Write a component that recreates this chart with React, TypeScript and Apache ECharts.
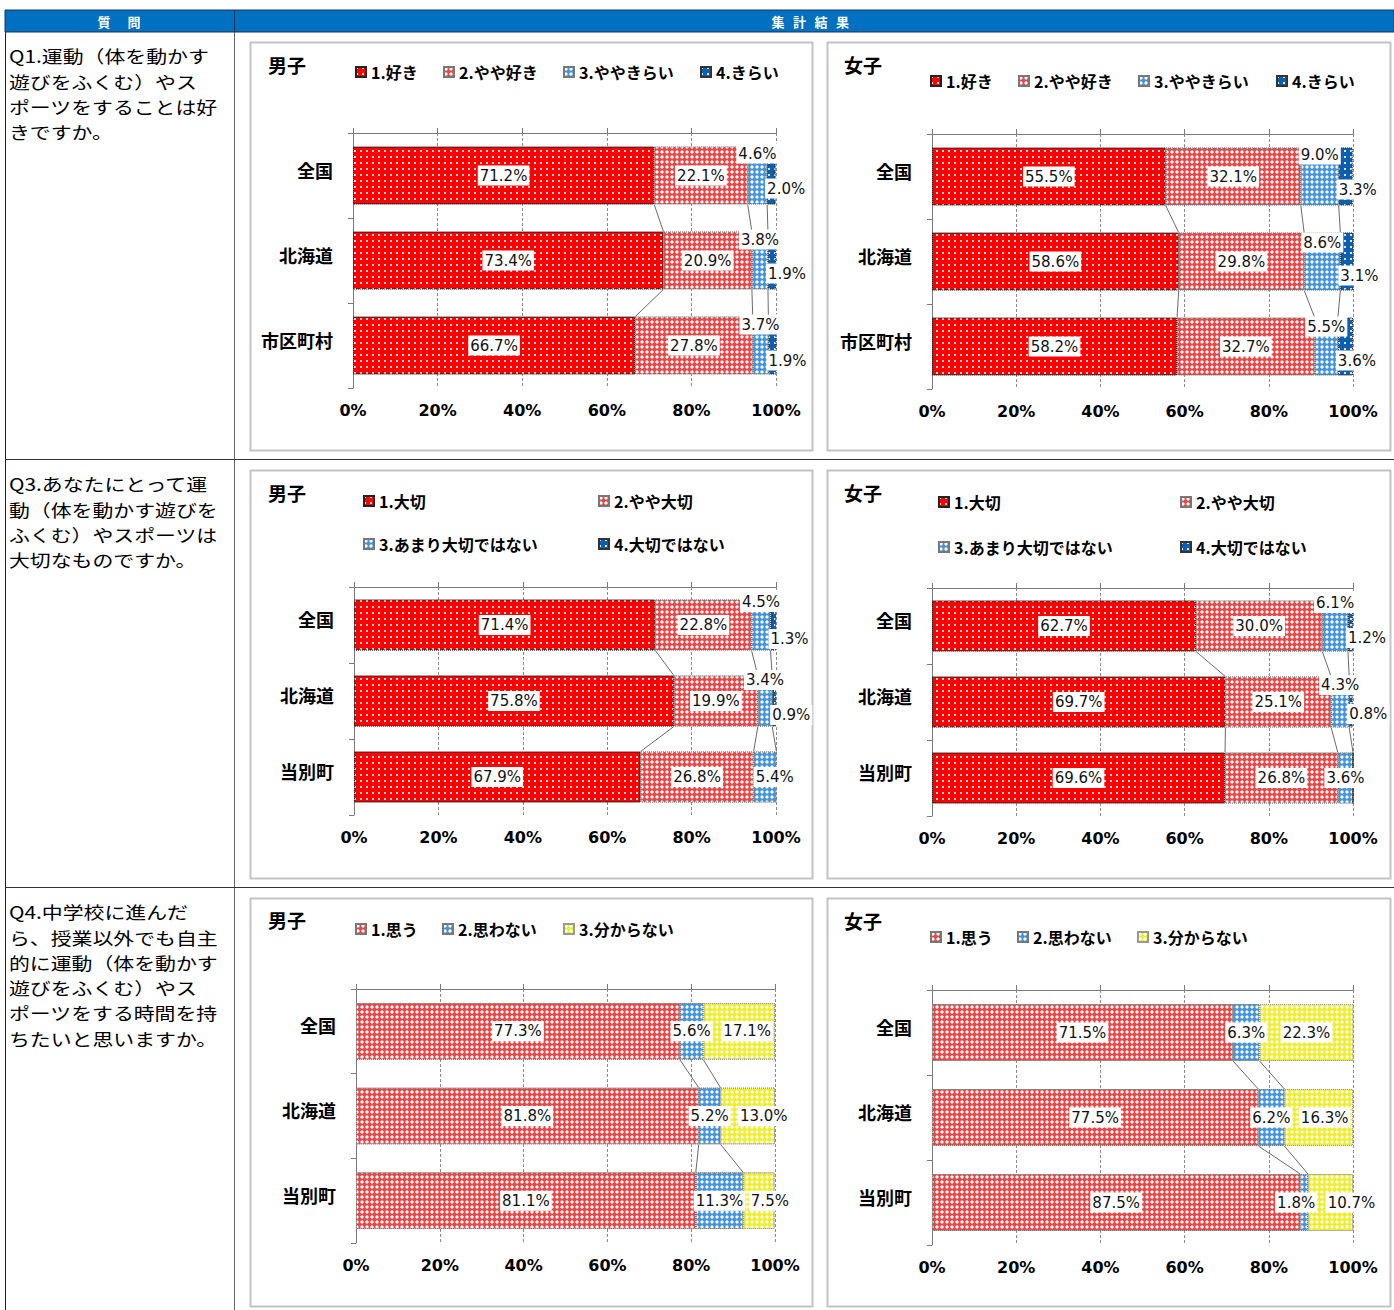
import React, { useEffect, useRef } from 'react';
import * as echarts from 'echarts';

// ---------- data ----------
const q1Regions = ['全国', '北海道', '市区町村'];
const q34Regions = ['全国', '北海道', '当別町'];
const q1Answers = ['1.好き', '2.やや好き', '3.ややきらい', '4.きらい'];
const q3Answers = ['1.大切', '2.やや大切', '3.あまり大切ではない', '4.大切ではない'];
const q4Answers = ['1.思う', '2.思わない', '3.分からない'];
// rows = regions, columns = answers (%)
const q1Boys = [[71.2, 22.1, 4.6, 2.0], [73.4, 20.9, 3.8, 1.9], [66.7, 27.8, 3.7, 1.9]];
const q1Girls = [[55.5, 32.1, 9.0, 3.3], [58.6, 29.8, 8.6, 3.1], [58.2, 32.7, 5.5, 3.6]];
const q3Boys = [[71.4, 22.8, 4.5, 1.3], [75.8, 19.9, 3.4, 0.9], [67.9, 26.8, 5.4, 0]];
const q3Girls = [[62.7, 30.0, 6.1, 1.2], [69.7, 25.1, 4.3, 0.8], [69.6, 26.8, 3.6, 0]];
const q4Boys = [[77.3, 5.6, 17.1], [81.8, 5.2, 13.0], [81.1, 11.3, 7.5]];
const q4Girls = [[71.5, 6.3, 22.3], [77.5, 6.2, 16.3], [87.5, 1.8, 10.7]];
const axisMax = 100;
const axisStep = 20;

const headerLeft = ['質', '問'];
const headerRight = ['集', '計', '結', '果'];
const q1Text = ['Q1.運動（体を動かす', '遊びをふくむ）やス', 'ポーツをすることは好', 'きですか。'];
const q3Text = ['Q3.あなたにとって運', '動（体を動かす遊びを', 'ふくむ）やスポーツは', '大切なものですか。'];
const q4Text = ['Q4.中学校に進んだ', 'ら、授業以外でも自主', '的に運動（体を動かす', '遊びをふくむ）やス', 'ポーツをする時間を持', 'ちたいと思いますか。'];

// ---------- styles ----------
const dots = (c: string) => ({ symbol: 'rect', symbolSize: 1, color: c, dashArrayX: [1.3, 3.3], dashArrayY: [1.3, 3.3] });
const hatch = (c: string) => ({ symbol: 'diamond', symbolSize: 1, color: c, dashArrayX: [3.2, 0.8], dashArrayY: [3.2, 0.8] });
const RED = { color: '#ff0000', decal: dots('rgba(255,255,255,0.85)'), borderColor: '#222', borderWidth: 1, borderType: 'dotted' };
const PINK = { color: '#e84848', decal: hatch('#ffffff'), borderColor: '#777', borderWidth: 1, borderType: 'dotted' };
const LBLUE = { color: '#4595d8', decal: hatch('#ffffff'), borderColor: '#777', borderWidth: 1, borderType: 'dotted' };
const DBLUE = { color: '#0b5fb0', decal: dots('rgba(255,255,255,0.85)'), borderColor: '#333', borderWidth: 1, borderType: 'dotted' };
const YELLOW = { color: '#efee2a', decal: hatch('#ffffff'), borderColor: '#999', borderWidth: 1, borderType: 'dotted' };

type Place = null | { position?: string; offset?: number[]; distance?: number };
const up = (dy: number): Place => ({ position: 'inside', offset: [0, dy] });
const lowRight = (dy: number): Place => ({ position: 'insideLeft', distance: 0, offset: [-2, dy] });
const shift = (dx: number): Place => ({ position: 'inside', offset: [dx, 0] });

const charts = [
  {
    rows: q1Boys, regions: q1Regions, answers: q1Answers, styles: [RED, PINK, LBLUE, DBLUE],
    grid: { left: 353, top: 133, width: 423, height: 255 }, ratio: 0.68, title: '男子', titlePos: [287, 64],
    legend: [[355, 73], [443, 73], [563, 73], [700, 73]],
    place: [[null, null, up(-22), lowRight(13)], [null, null, up(-21), lowRight(13)], [null, null, up(-21), lowRight(15)]],
  },
  {
    rows: q1Girls, regions: q1Regions, answers: q1Answers, styles: [RED, PINK, LBLUE, DBLUE],
    grid: { left: 932, top: 134, width: 421, height: 255 }, ratio: 0.68, title: '女子', titlePos: [863, 64],
    legend: [[930, 82], [1018, 82], [1138, 82], [1276, 82]],
    place: [[null, null, up(-22), lowRight(13)], [null, null, up(-19), lowRight(14)], [null, null, up(-20), lowRight(14)]],
  },
  {
    rows: q3Boys, regions: q34Regions, answers: q3Answers, styles: [RED, PINK, LBLUE, DBLUE],
    grid: { left: 354, top: 587, width: 422, height: 228 }, ratio: 0.67, title: '男子', titlePos: [287, 492],
    legend: [[363, 502], [598, 502], [363, 545], [598, 545]],
    place: [[null, null, up(-23), lowRight(14)], [null, null, up(-21), lowRight(14)], [null, null, { position: 'insideLeft', distance: 0 }, null]],
  },
  {
    rows: q3Girls, regions: q34Regions, answers: q3Answers, styles: [RED, PINK, LBLUE, DBLUE],
    grid: { left: 932, top: 588, width: 421, height: 228 }, ratio: 0.67, title: '女子', titlePos: [863, 492],
    legend: [[938, 503], [1180, 503], [938, 548], [1180, 548]],
    place: [[null, null, up(-23), lowRight(12)], [null, null, up(-17), lowRight(12)], [null, null, null, null]],
  },
  {
    rows: q4Boys, regions: q34Regions, answers: q4Answers, styles: [PINK, LBLUE, YELLOW],
    grid: { left: 356, top: 989, width: 419, height: 254 }, ratio: 0.67, title: '男子', titlePos: [287, 919],
    legend: [[355, 930], [442, 930], [563, 930]],
    place: [[null, null, shift(8)], [null, null, shift(16)], [null, null, shift(11)]],
  },
  {
    rows: q4Girls, regions: q34Regions, answers: q4Answers, styles: [PINK, LBLUE, YELLOW],
    grid: { left: 932, top: 990, width: 421, height: 255 }, ratio: 0.67, title: '女子', titlePos: [863, 920],
    legend: [[930, 938], [1017, 938], [1137, 938]],
    place: [[null, null, null], [null, null, shift(6)], [null, shift(-8), shift(21)]],
  },
];

const panels = [
  [250, 42, 562, 408], [827, 42, 563, 408],
  [250, 470, 562, 408], [827, 470, 563, 408],
  [250, 898, 562, 408], [827, 898, 563, 408],
];

const labelBase = {
  show: true,
  fontFamily: 'DejaVu Sans',
  fontSize: 15,
  color: '#111',
  backgroundColor: '#ffffff',
  padding: [3, 2, 2, 2],
};

function buildOption() {
  const grid: any[] = [];
  const xAxis: any[] = [];
  const yAxis: any[] = [];
  const series: any[] = [];
  const legend: any[] = [];
  const graphic: any[] = [];

  // table frame
  graphic.push({ type: 'rect', shape: { x: 5, y: 10, width: 1389, height: 22 }, style: { fill: '#0070c0', stroke: '#1b3558', lineWidth: 1 }, z: 1 });
  graphic.push({ type: 'line', shape: { x1: 234.5, y1: 10, x2: 234.5, y2: 32 }, style: { stroke: '#1b3558', lineWidth: 1 }, z: 2 });
  headerLeft.forEach((ch, i) => {
    graphic.push({ type: 'text', x: 104 + i * 30, y: 21, style: { text: ch, fill: '#fff', font: 'bold 13px "Noto Sans CJK JP"', textAlign: 'center', textVerticalAlign: 'middle' }, z: 3 });
  });
  headerRight.forEach((ch, i) => {
    graphic.push({ type: 'text', x: 778 + i * 21.5, y: 21, style: { text: ch, fill: '#fff', font: 'bold 13px "Noto Sans CJK JP"', textAlign: 'center', textVerticalAlign: 'middle' }, z: 3 });
  });
  graphic.push({ type: 'line', shape: { x1: 5.5, y1: 10, x2: 5.5, y2: 1310 }, style: { stroke: '#222', lineWidth: 1 } });
  graphic.push({ type: 'line', shape: { x1: 234.5, y1: 32, x2: 234.5, y2: 1310 }, style: { stroke: '#666', lineWidth: 1 } });
  graphic.push({ type: 'line', shape: { x1: 5, y1: 459.5, x2: 1394, y2: 459.5 }, style: { stroke: '#333', lineWidth: 1 } });
  graphic.push({ type: 'line', shape: { x1: 5, y1: 887.5, x2: 1394, y2: 887.5 }, style: { stroke: '#333', lineWidth: 1 } });

  // question texts: slightly condensed height so that stacked lines keep their 25px pitch without overlapping
  const qs: [string[], number][] = [[q1Text, 56], [q3Text, 484], [q4Text, 912]];
  qs.forEach(([lines, y]) => {
    lines.forEach((ln, li) => {
      graphic.push({
        type: 'text', x: 9, y: y + li * 25.3, scaleX: 1.2, scaleY: 1,
        style: { text: ln, fill: '#000', font: '17.4px "Noto Sans CJK JP"', textVerticalAlign: 'middle' },
      });
    });
  });

  panels.forEach(([x, y, w, h]) => {
    graphic.push({ type: 'rect', shape: { x: x + 0.5, y: y + 0.5, width: w, height: h }, style: { fill: 'none', stroke: '#c3c3c3', lineWidth: 2 }, z: 0 });
  });

  charts.forEach((c, gi) => {
    grid.push({ ...c.grid, containLabel: false });
    graphic.push({ type: 'text', x: c.titlePos[0], y: c.titlePos[1], style: { text: c.title, fill: '#000', font: 'bold 19px "Noto Sans CJK JP"', textAlign: 'center', textVerticalAlign: 'middle' } });

    xAxis.push({
      gridIndex: gi, type: 'value', min: 0, max: axisMax, interval: axisStep, position: 'bottom',
      axisLine: { show: false }, axisTick: { show: false },
      axisLabel: { formatter: '{value}%', margin: 14, fontFamily: 'DejaVu Sans', fontWeight: 'bold', fontSize: 16, color: '#000' },
      splitLine: { show: true, lineStyle: { color: '#8c8c8c', type: [3, 2], width: 1 } },
    });
    xAxis.push({
      gridIndex: gi, type: 'value', min: 0, max: axisMax, interval: axisStep, position: 'top',
      axisLine: { show: true, lineStyle: { color: '#7a7a7a', width: 1 } },
      axisTick: { show: true, length: 5, lineStyle: { color: '#7a7a7a' } },
      axisLabel: { show: false }, splitLine: { show: false },
    });
    yAxis.push({
      gridIndex: gi, type: 'category', data: c.regions, inverse: true,
      axisLine: { show: true, lineStyle: { color: '#7a7a7a' } },
      axisTick: { show: true, length: 5, lineStyle: { color: '#7a7a7a' } },
      axisLabel: { margin: 20, fontFamily: 'Noto Sans CJK JP', fontWeight: 'bold', fontSize: 18, color: '#000', verticalAlign: 'bottom', lineHeight: 12 },
    });

    c.answers.forEach((name, si) => {
      series.push({
        type: 'bar', name, stack: 'g' + gi, xAxisIndex: gi * 2, yAxisIndex: gi,
        barWidth: Math.round(c.ratio * 100) + '%',
        itemStyle: c.styles[si],
        data: c.rows.map((row, ri) => {
          const v = row[si];
          const pl = c.place[ri][si];
          const label: any = { ...labelBase, formatter: v.toFixed(1) + '%' };
          if (pl) Object.assign(label, pl);
          if (!v) label.show = false;
          return { value: v, label };
        }),
        z: 3,
      });
      legend.push({
        data: [name], left: c.legend[si][0], top: c.legend[si][1] - 9, padding: 0,
        icon: 'rect', itemWidth: 10, itemHeight: 10, itemGap: 0, selectedMode: false,
        textStyle: { fontFamily: 'Noto Sans CJK JP', fontWeight: 'bold', fontSize: 16, color: '#000' },
      });
    });

    // series lines between consecutive bars
    const lineData: number[][] = [];
    for (let ri = 0; ri < c.rows.length - 1; ri++) {
      let a = 0, b = 0;
      for (let k = 0; k < c.answers.length - 1; k++) {
        a += c.rows[ri][k];
        b += c.rows[ri + 1][k];
        lineData.push([ri, a, b]);
      }
    }
    const ratio = c.ratio;
    series.push({
      type: 'custom', xAxisIndex: gi * 2, yAxisIndex: gi, silent: true, z: 2,
      encode: { x: [1, 2], y: 0 },
      data: lineData,
      renderItem: (params: any, api: any) => {
        const ri = api.value(0);
        const p1 = api.coord([api.value(1), ri]);
        const p2 = api.coord([api.value(2), ri + 1]);
        const band = api.size([0, 1])[1];
        const h = (band * ratio) / 2;
        return { type: 'line', shape: { x1: p1[0], y1: p1[1] + h, x2: p2[0], y2: p2[1] - h }, style: { stroke: '#6a6a6a', lineWidth: 1 } };
      },
    });
  });

  return { animation: false, backgroundColor: '#ffffff', grid, xAxis, yAxis, series, legend, graphic };
}

export default function App() {
  const ref = useRef<HTMLDivElement>(null);
  useEffect(() => {
    document.body.style.margin = '0';
    const chart = echarts.init(ref.current!, undefined, { renderer: 'svg' });
    chart.setOption(buildOption() as any);
    return () => chart.dispose();
  }, []);
  return <div ref={ref} style={{ width: 1394, height: 1310 }} />;
}
